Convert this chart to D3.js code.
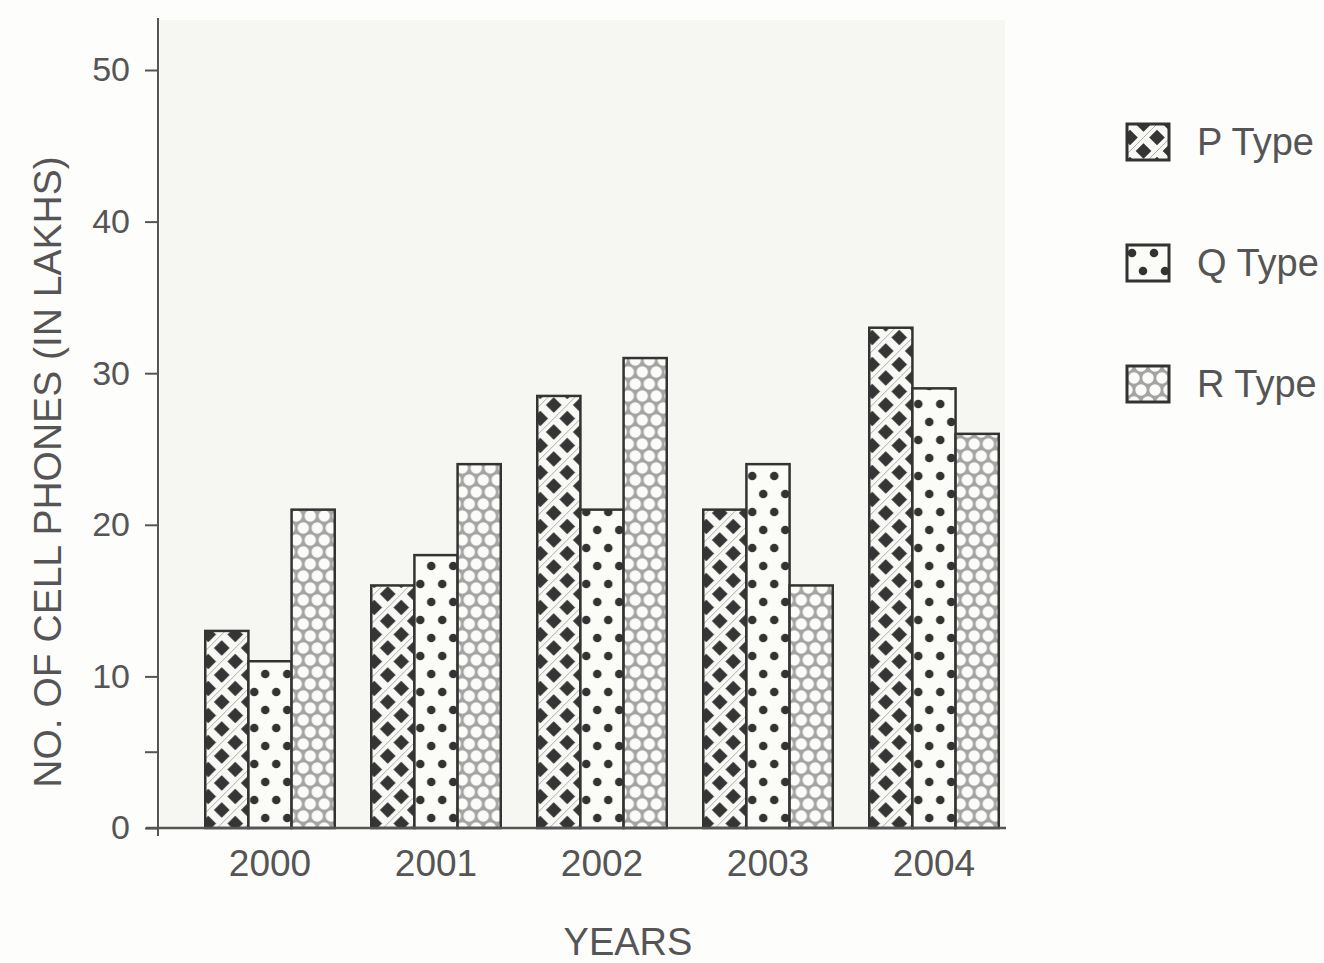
<!DOCTYPE html>
<html>
<head>
<meta charset="utf-8">
<script src="https://cdn.jsdelivr.net/npm/d3@7"></script>
<style>
  body { margin: 0; background: #fdfdfb; }
  text { font-family: "Liberation Sans", Arial, sans-serif; fill: #555; }
</style>
</head>
<body>
<svg></svg>
<script>
// chart size
const width = 1324;
const height = 963;

// data
const years = ["2000", "2001", "2002", "2003", "2004"];
const types = ["P", "Q", "R"];
const typeLabels = ["P Type", "Q Type", "R Type"];
const pValues = [13, 16, 28.5, 21, 33];
const qValues = [11, 18, 21, 24, 29];
const rValues = [21, 24, 31, 16, 26];
const yTicks = [0, 10, 20, 30, 40, 50];

const series = { P: pValues, Q: qValues, R: rValues };

const svg = d3.select("svg")
    .attr("width", width)
    .attr("height", height);

// patterns
const defs = svg.append("defs");

// P: dark diamonds between white crossing bands (tile t)
const t = 27, e = 7;
const pP = defs.append("pattern")
    .attr("id", "patP")
    .attr("patternUnits", "userSpaceOnUse")
    .attr("x", 3)
    .attr("width", t).attr("height", t);
pP.append("rect").attr("width", t).attr("height", t).attr("fill", "#353535");
const lattice = `M${-e},${-e} L${t + e},${t + e} M${t - e},${-e} L${t + e},${e} M${-e},${t - e} L${e},${t + e} ` +
    `M${-e},${e} L${e},${-e} M${-e},${t + e} L${t + e},${-e} M${t - e},${t + e} L${t + e},${t - e}`;
pP.append("path")
    .attr("d", lattice)
    .attr("stroke", "#f8f8f5").attr("stroke-width", 8);
// thin strokes for the over-under look
pP.append("path")
    .attr("d", `M${-e},${t + e} L${t + e},${-e}`)
    .attr("stroke", "#999").attr("stroke-width", 0.8).attr("fill", "none");

// Q: white with staggered dark dots
const pQ = defs.append("pattern")
    .attr("id", "patQ")
    .attr("patternUnits", "userSpaceOnUse")
    .attr("width", 22).attr("height", 36);
pQ.append("rect").attr("width", 22).attr("height", 36).attr("fill", "#fbfbf8");
pQ.append("circle").attr("cx", 5).attr("cy", 8).attr("r", 4.3).attr("fill", "#333");
pQ.append("circle").attr("cx", 16).attr("cy", 26).attr("r", 4.3).attr("fill", "#333");

// R: packed small white circles on grey
const pR = defs.append("pattern")
    .attr("id", "patR")
    .attr("patternUnits", "userSpaceOnUse")
    .attr("width", 14).attr("height", 24);
pR.append("rect").attr("width", 14).attr("height", 24).attr("fill", "#a4a4a4");
[[0, 0], [14, 0], [7, 12], [0, 24], [14, 24]].forEach(c => {
    pR.append("circle").attr("cx", c[0]).attr("cy", c[1]).attr("r", 5.7)
        .attr("fill", "#fbfbf8");
});

const fills = { P: "url(#patP)", Q: "url(#patQ)", R: "url(#patR)" };

// scales
const y = d3.scaleLinear().domain([0, 50]).range([828, 70]);

const x0 = d3.scaleBand()
    .domain(years)
    .range([187, 1017])
    .paddingInner(0.22)
    .paddingOuter(0.11);

const x1 = d3.scaleBand()
    .domain(types)
    .range([0, x0.bandwidth()]);

// plot background
svg.append("rect")
    .attr("x", 160).attr("y", 20)
    .attr("width", 845).attr("height", 808)
    .attr("fill", "#f6f6f2");

// bars
const groups = svg.append("g")
    .selectAll("g")
    .data(years)
    .join("g")
    .attr("transform", d => `translate(${x0(d)},0)`);

groups.selectAll("rect")
    .data((d, i) => types.map(k => ({ type: k, value: series[k][i] })))
    .join("rect")
    .attr("x", d => x1(d.type))
    .attr("y", d => y(d.value))
    .attr("width", x1.bandwidth())
    .attr("height", d => y(0) - y(d.value))
    .attr("fill", d => fills[d.type])
    .attr("stroke", "#333")
    .attr("stroke-width", 2.5);

// y axis
const yAxis = svg.append("g")
    .attr("transform", "translate(158,0)")
    .call(d3.axisLeft(y).tickValues(yTicks).tickSize(13).tickPadding(15));
yAxis.select(".domain").remove();
yAxis.selectAll("line").attr("stroke", "#555").attr("stroke-width", 2);
yAxis.selectAll("text").style("font-size", "34px").attr("fill", "#555");

// minor tick at 5
svg.append("line")
    .attr("x1", 145).attr("x2", 158)
    .attr("y1", y(5)).attr("y2", y(5))
    .attr("stroke", "#555").attr("stroke-width", 2);

svg.append("line")
    .attr("x1", 158).attr("x2", 158)
    .attr("y1", 18).attr("y2", 836)
    .attr("stroke", "#555").attr("stroke-width", 2);

// x axis
const xAxis = svg.append("g")
    .attr("transform", "translate(0,828)")
    .call(d3.axisBottom(x0).tickSize(0).tickPadding(22));
xAxis.select(".domain").remove();
xAxis.selectAll("text").style("font-size", "37px").attr("fill", "#555");

svg.append("line")
    .attr("x1", 146).attr("x2", 1006)
    .attr("y1", 828).attr("y2", 828)
    .attr("stroke", "#555").attr("stroke-width", 2.5);

// axis titles
svg.append("text")
    .attr("x", 628).attr("y", 955)
    .attr("text-anchor", "middle")
    .style("font-size", "38px")
    .text("YEARS");

svg.append("text")
    .attr("transform", "translate(61,472) rotate(-90)")
    .attr("text-anchor", "middle")
    .style("font-size", "39px")
    .text("NO. OF CELL PHONES (IN LAKHS)");

// legend
const legend = svg.append("g")
    .selectAll("g")
    .data(types)
    .join("g")
    .attr("transform", (d, i) => `translate(1127,${124 + i * 121})`);

legend.append("rect")
    .attr("width", 42).attr("height", 36)
    .attr("fill", d => fills[d])
    .attr("stroke", "#333")
    .attr("stroke-width", 3);

legend.append("text")
    .attr("x", 70).attr("y", 31)
    .style("font-size", "38px")
    .text((d, i) => typeLabels[i]);
</script>
</body>
</html>
